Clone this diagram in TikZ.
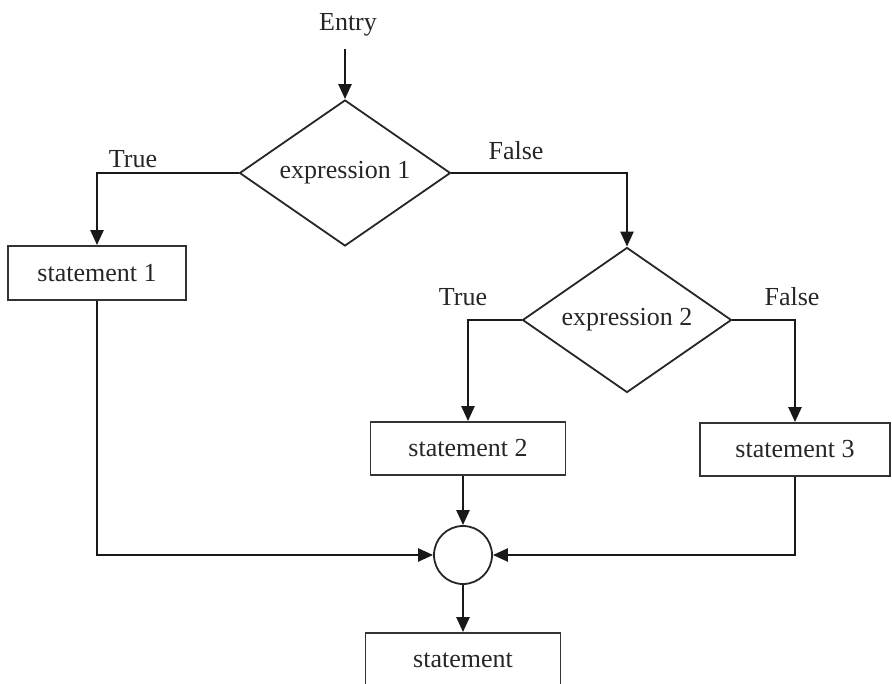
\documentclass[tikz,border=0pt]{standalone}
\usepackage{fontspec}
\setmainfont{Liberation Serif}
\usetikzlibrary{shapes.geometric,arrows.meta}
\begin{document}
\begin{tikzpicture}[x=1pt,y=-1pt,
  font=\fontsize{26}{30}\selectfont,
  every node/.style={text=black!85},
  flow/.style={draw=black!90, line width=2.4pt, -{Triangle[length=15pt,width=13pt]}},
  stepbox/.style={draw=black!80, line width=1.8pt, rectangle, inner sep=0pt},
  test/.style={draw=black!85, line width=1.8pt, diamond, inner sep=0pt, aspect=1.45},
  junction/.style={draw=black!85, line width=1.8pt, circle, inner sep=0pt, minimum size=58pt},
  lbl/.style={inner sep=0pt, anchor=base}]
\useasboundingbox (0,0) rectangle (892,684);
\clip (0,0) rectangle (892,684);

% entry point and first decision
\node[lbl] (entry) at (348,31) {Entry};
\coordinate (start) at (345,49);
\node[test, minimum width=211pt, minimum height=146pt] (d1) at (345,173) {expression 1};

% second decision
\node[test, minimum width=209pt, minimum height=145pt] (d2) at (627,320) {expression 2};

% statements
\node[stepbox, minimum width=178pt, minimum height=54pt] (s1) at (97,273) {statement 1};
\node[stepbox, minimum width=195pt, minimum height=53pt] (s2) at (468,448.5) {statement 2};
\node[stepbox, minimum width=190pt, minimum height=53pt] (s3) at (795,449.5) {statement 3};

% junction and final statement
\node[junction] (c) at (463,555) {};
\node[stepbox, minimum width=195pt, minimum height=54pt] (s) at (463,660) {statement};

% branch labels
\node[lbl] (t1) at (133,168) {True};
\node[lbl] (f1) at (516,160) {False};
\node[lbl] (t2) at (463,306) {True};
\node[lbl] (f2) at (792,306) {False};

% connectors
\draw[flow] (start) -- (d1.north);
\draw[flow] (d1.west) -| (s1.north);
\draw[flow] (d1.east) -| (d2.north);
\draw[flow] (d2.west) -| (s2.north);
\draw[flow] (d2.east) -| (s3.north);
\draw[flow] (c.north |- s2.south) -- (c.north);
\draw[flow] (s1.south) |- (c.west);
\draw[flow] (s3.south) |- (c.east);
\draw[flow] (c.south) -- (s.north);
\end{tikzpicture}
\end{document}
